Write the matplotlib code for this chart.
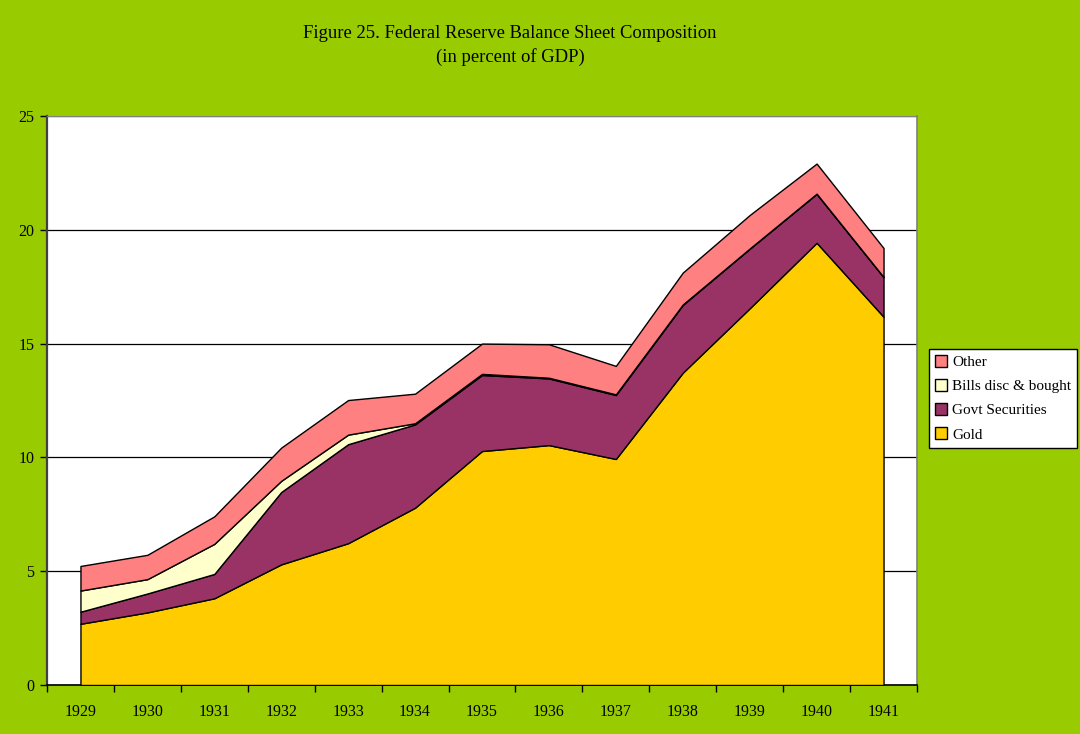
import numpy as np
import matplotlib
matplotlib.use('Agg')
import matplotlib.pyplot as plt
from matplotlib.patches import Patch

plt.rcParams['font.family'] = ['Liberation Serif', 'DejaVu Serif']

# Data (percent of GDP)
years = ['1929', '1930', '1931', '1932', '1933', '1934', '1935',
         '1936', '1937', '1938', '1939', '1940', '1941']
gold = [2.69, 3.19, 3.81, 5.30, 6.23, 7.79, 10.28, 10.54, 9.93, 13.72, 16.55, 19.43, 16.18]
govt = [0.53, 0.83, 1.07, 3.18, 4.35, 3.66, 3.34, 2.93, 2.81, 2.98, 2.62, 2.15, 1.74]
bills = [0.93, 0.63, 1.32, 0.49, 0.42, 0.05, 0.05, 0.03, 0.03, 0.02, 0.01, 0.01, 0.01]
other = [1.08, 1.07, 1.21, 1.46, 1.52, 1.30, 1.33, 1.47, 1.25, 1.40, 1.47, 1.32, 1.27]

labels = ['Gold', 'Govt Securities', 'Bills disc & bought', 'Other']
colors = ['#FFCC00', '#993366', '#FFFFCC', '#FF8080']

bg = '#99CC00'
fig = plt.figure(figsize=(10.8, 7.34), dpi=100, facecolor=bg)
ax = fig.add_axes([47/1080, 49/734, 870/1080, 569/734])
ax.set_facecolor('white')

x = np.arange(len(years))
ax.stackplot(x, gold, govt, bills, other, colors=colors,
             edgecolor='black', linewidth=1.0, zorder=3)

ax.set_xlim(-0.5, len(years) - 0.5)
ax.set_ylim(0, 25)
ax.set_yticks([0, 5, 10, 15, 20, 25])
ax.yaxis.grid(True, color='black', linewidth=0.9, zorder=0)
ax.set_axisbelow(True)

# category labels in the middle, ticks on the category boundaries
ax.set_xticks(x)
ax.set_xticklabels(years)
ax.set_xticks(np.arange(-0.5, len(years), 1), minor=True)
ax.tick_params(axis='x', which='major', length=0, pad=14, labelsize=11.5)
ax.tick_params(axis='x', which='minor', length=5, direction='out', width=1, color='black')
ax.tick_params(axis='y', length=5, direction='out', width=1, labelsize=11.5, pad=4)

ax.spines['left'].set_color('#404040')
ax.spines['left'].set_linewidth(1.6)
ax.spines['bottom'].set_color('black')
ax.spines['bottom'].set_linewidth(1.2)
ax.spines['top'].set_color('#808080')
ax.spines['right'].set_color('#808080')
ax.spines['right'].set_linewidth(1.2)

fig.text(510/1080, 1 - 34/734, 'Figure 25. Federal Reserve Balance Sheet Composition',
         ha='center', va='center', fontsize=13.4)
fig.text(510/1080, 1 - 57/734, '(in percent of GDP)',
         ha='center', va='center', fontsize=13.4)

order = [3, 2, 1, 0]
handles = [Patch(facecolor=colors[i], edgecolor='black', linewidth=1.0) for i in order]
leg = fig.legend(handles, [labels[i] for i in order],
                 loc='upper left', bbox_to_anchor=(929/1080, 1 - 349/734),
                 fontsize=11.0, frameon=True, fancybox=False,
                 edgecolor='black', framealpha=1,
                 handlelength=0.8, handleheight=0.8, handletextpad=0.3,
                 labelspacing=0.65, borderpad=0.4, borderaxespad=0)
leg.get_frame().set_linewidth(1.0)

fig.savefig('out.png', dpi=100, facecolor=bg)
